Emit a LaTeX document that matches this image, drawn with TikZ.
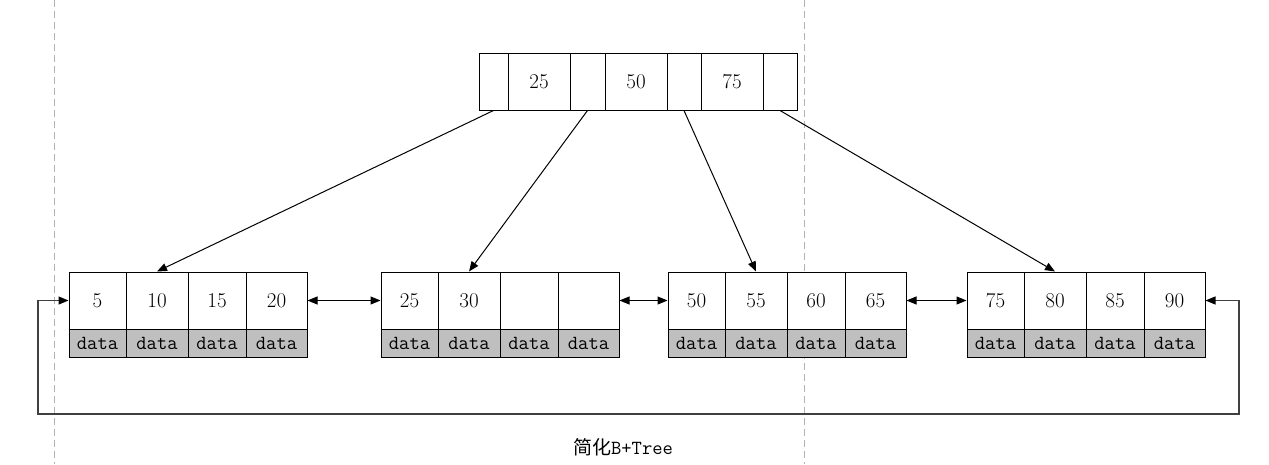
\documentclass[tikz,border=0pt]{standalone}
\usepackage{fontspec}
\newfontfamily\cjkfont{Noto Sans CJK SC}
\usetikzlibrary{arrows.meta}
\tikzset{
  cell/.style={draw=black, line width=1pt, fill=white, inner sep=0pt, font=\fontsize{21}{24}\selectfont},
  datacell/.style={draw=black, line width=1pt, fill=black!25, inner sep=0pt, font=\fontsize{20}{23}\selectfont\ttfamily},
  link/.style={line width=1pt, -{Triangle[length=10pt,width=8pt]}},
  dlink/.style={line width=1pt, {Triangle[length=10pt,width=8pt]}-{Triangle[length=10pt,width=8pt]}},
  loop/.style={line width=1.2pt, draw=black!75, {Triangle[length=10pt,width=8pt,color=black]}-{Triangle[length=10pt,width=8pt,color=black]}},
  guide/.style={draw=black!30, line width=1pt, dash pattern=on 7pt off 4pt},
}
\newcommand\topcell[4]{\node[cell, minimum width=#3pt, minimum height=57pt] (#1) at (#2,81.5) {#4};}
\newcommand\leafrow[6]{%
  \pgfmathsetmacro\xa{#2}%
  \pgfmathsetmacro\xb{#2+57}%
  \pgfmathsetmacro\xc{#2+119}%
  \pgfmathsetmacro\xd{#2+177}%
  \pgfmathsetmacro\xe{#2+238}%
  \node[cell, minimum width=57pt, minimum height=57pt] (#1a) at ({(\xa+\xb)/2},300.5) {#3};
  \node[cell, minimum width=62pt, minimum height=57pt] (#1b) at ({(\xb+\xc)/2},300.5) {#4};
  \node[cell, minimum width=58pt, minimum height=57pt] (#1c) at ({(\xc+\xd)/2},300.5) {#5};
  \node[cell, minimum width=61pt, minimum height=57pt] (#1d) at ({(\xd+\xe)/2},300.5) {#6};
  \node[datacell, minimum width=57pt, minimum height=28pt] (#1A) at ({(\xa+\xb)/2},343) {data};
  \node[datacell, minimum width=62pt, minimum height=28pt] (#1B) at ({(\xb+\xc)/2},343) {data};
  \node[datacell, minimum width=58pt, minimum height=28pt] (#1C) at ({(\xc+\xd)/2},343) {data};
  \node[datacell, minimum width=61pt, minimum height=28pt] (#1D) at ({(\xd+\xe)/2},343) {data};
}
\begin{document}
\begin{tikzpicture}[x=1pt, y=-1pt]
\useasboundingbox (0,0) rectangle (1269,464);
% guide lines
\draw[guide] (54,0) -- (54,464);
\draw[guide] (804,0) -- (804,464);
% root node
\topcell{T1}{493.5}{29}{}
\topcell{T2}{539}{62}{25}
\topcell{T3}{587.5}{35}{}
\topcell{T4}{636}{62}{50}
\topcell{T5}{684}{34}{}
\topcell{T6}{732}{62}{75}
\topcell{T7}{780}{34}{}
% leaves
\leafrow{La}{69}{5}{10}{15}{20}
\leafrow{Lb}{381}{25}{30}{}{}
\leafrow{Lc}{668}{50}{55}{60}{65}
\leafrow{Ld}{967}{75}{80}{85}{90}
% tree links
\draw[link] (T1.south) -- (Lab.north);
\draw[link] (T3.south) -- (Lbb.north);
\draw[link] (T5.south) -- (Lcb.north);
\draw[link] (T7.south) -- (Ldb.north);
% sibling links
\draw[dlink] (Lad.east) -- (Lba.west);
\draw[dlink] (Lbd.east) -- (Lca.west);
\draw[dlink] (Lcd.east) -- (Lda.west);
% loop
\coordinate (r1) at (1239,300.5);
\coordinate (r2) at (1239,414);
\coordinate (l2) at (38,414);
\coordinate (l1) at (38,300.5);
\draw[loop] (Ldd.east) -- (r1) -- (r2) -- (l2) -- (l1) -- (Laa.west);
% caption
\node[font=\fontsize{20}{23}\selectfont] (cap) at (623,447) {{\cjkfont\fontsize{19}{23}\selectfont 简化}\ttfamily B+Tree};
\end{tikzpicture}
\end{document}
